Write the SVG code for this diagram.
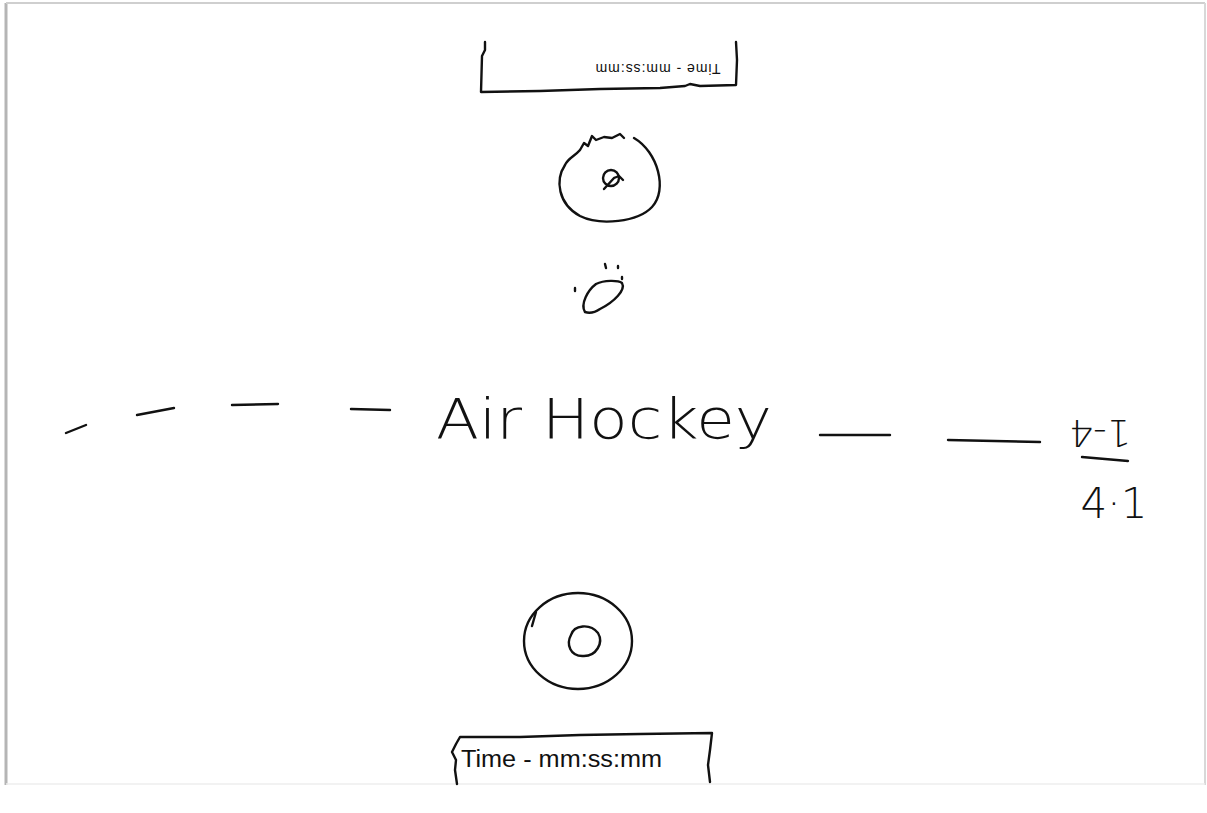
<svg xmlns="http://www.w3.org/2000/svg" width="1207" height="813" viewBox="0 0 1207 813">
<style>
.ink{fill:none;stroke:#111;stroke-width:2.4;stroke-linecap:round;stroke-linejoin:round}
.hand{font-family:"DejaVu Sans","Liberation Sans",sans-serif;font-weight:200;fill:#111}
.lbl{font-family:"Liberation Sans",Arial,sans-serif;fill:#111}
</style>
<rect x="0" y="0" width="1207" height="813" fill="#fff"/>
<g id="frame">
<line x1="6" y1="3" x2="6" y2="785" stroke="#b5b5b5" stroke-width="3"/>
<line x1="6" y1="3" x2="1205" y2="3" stroke="#cfcfcf" stroke-width="2"/>
<line x1="1205" y1="3" x2="1205" y2="785" stroke="#d8d8d8" stroke-width="2"/>
<line x1="6" y1="784" x2="1205" y2="784" stroke="#eeeeee" stroke-width="1.5"/>
</g>
<g id="top-box">
<path class="ink" d="M485,42 L485,50 L482,56 L481,92 L540,91 L600,89 L660,88 L685,86 L690,84 L700,86 L736,85 L737,60 L736,42"/>
<text class="lbl" font-size="14" transform="translate(658,68) rotate(180)" text-anchor="middle" dominant-baseline="middle" textLength="125" lengthAdjust="spacing">Time - mm:ss:mm</text>
</g>
<g id="top-paddle">
<path class="ink" d="M634,138 C658,152 668,190 652,207 C638,222 600,226 580,216 C558,204 555,180 565,165 C568,158 575,156 580,150 L584,143 L588,146 L592,136 L596,140 L604,137 L612,138 L620,134 L624,138"/>
<circle class="ink" cx="611" cy="178" r="8"/>
<path class="ink" d="M604,189 L614,178 M614,178 L619,176 L623,180"/>
</g>
<g id="puck">
<path class="ink" d="M585,312 C580,304 588,290 596,284 C604,280 618,280 622,283 C626,290 614,302 600,309 C594,313 588,313 585,312 Z"/>
<line class="ink" x1="575" y1="288" x2="575" y2="291"/>
<line class="ink" x1="605" y1="264" x2="606" y2="268"/>
<line class="ink" x1="618" y1="266" x2="618" y2="268"/>
<line class="ink" x1="622" y1="277" x2="622" y2="279"/>
</g>
<g id="center-line">
<path class="ink" d="M66,433 L86,425"/>
<path class="ink" d="M137,415 L174,408"/>
<path class="ink" d="M232,405 L278,404"/>
<path class="ink" d="M351,409 L390,410"/>
<path class="ink" d="M820,435 L890,435"/>
<path class="ink" d="M948,440 L1040,442"/>
</g>
<g id="title">
<text class="hand" x="436" y="438" font-size="56" textLength="336" lengthAdjust="spacingAndGlyphs">Air Hockey</text>
</g>
<g id="score">
<text class="hand" font-size="38" transform="translate(1100,430) rotate(180)" text-anchor="middle" dominant-baseline="middle">1-4</text>
<path class="ink" d="M1082,457 L1128,461"/>
<text class="hand" x="1114" y="518" font-size="42" text-anchor="middle">4·1</text>
</g>
<g id="bottom-paddle">
<ellipse class="ink" cx="578" cy="641" rx="54" ry="48"/>
<path class="ink" d="M571,635 C574,625 590,623 598,633 C604,643 596,656 584,656 C570,657 566,644 571,635 Z"/>
<path class="ink" d="M536,612 L532,626"/>
</g>
<g id="bottom-box">
<path class="ink" d="M457,784 L455,770 L456,760 L452,752 L456,744 L460,737 L520,737 L580,735 L640,734 L712,733 L710,750 L708,765 L710,782"/>
<text class="lbl" x="461" y="767" font-size="23" textLength="201" lengthAdjust="spacingAndGlyphs">Time - mm:ss:mm</text>
</g>
</svg>
